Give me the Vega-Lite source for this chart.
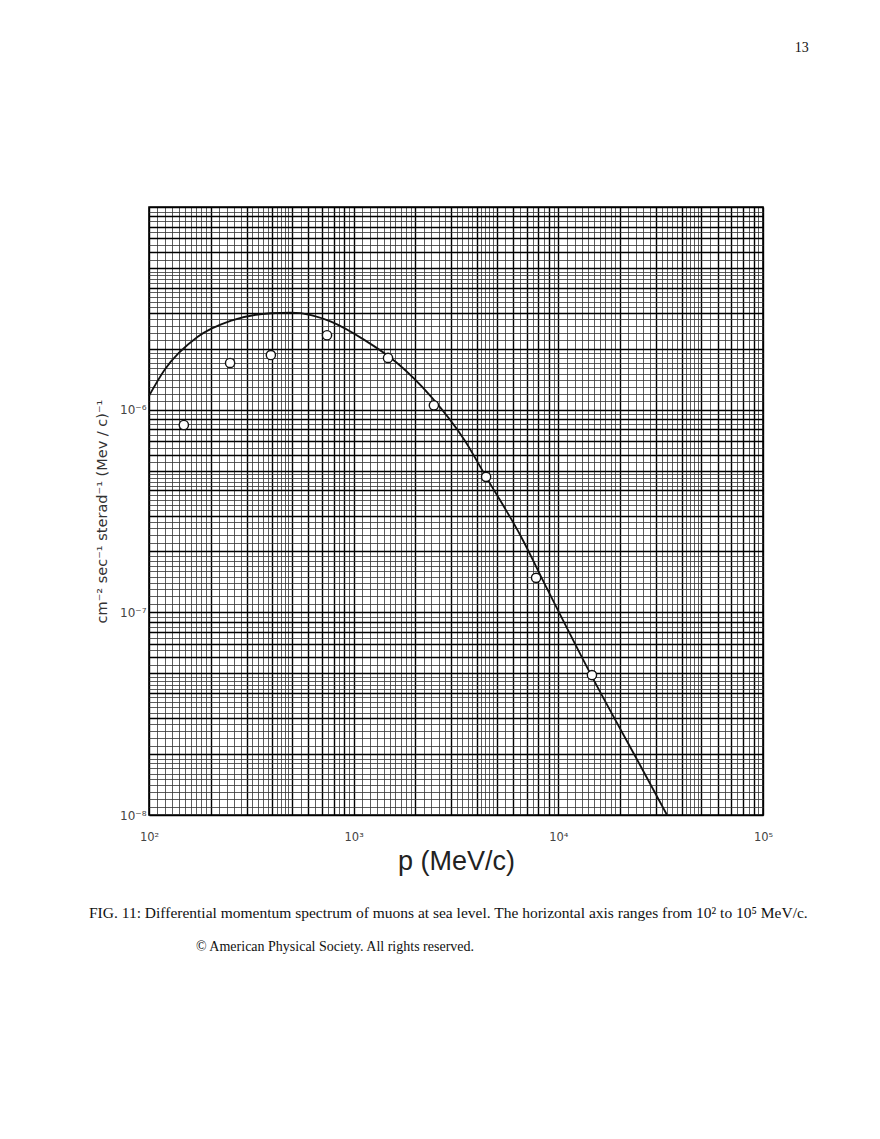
{
  "$schema": "https://vega.github.io/schema/vega-lite/v6.json",
  "background": "white",
  "padding": {"left": 88, "top": 41, "right": 10, "bottom": 10},
  "datasets": {
    "curve": [
      {"p": 100, "flux": 1.17e-6},
      {"p": 119, "flux": 1.57e-6},
      {"p": 173, "flux": 2.29e-6},
      {"p": 252, "flux": 2.75e-6},
      {"p": 394, "flux": 2.99e-6},
      {"p": 494, "flux": 3.01e-6},
      {"p": 619, "flux": 2.93e-6},
      {"p": 775, "flux": 2.72e-6},
      {"p": 1127, "flux": 2.21e-6},
      {"p": 1641, "flux": 1.69e-6},
      {"p": 2388, "flux": 1.16e-6},
      {"p": 3477, "flux": 7.08e-7},
      {"p": 4436, "flux": 4.66e-7},
      {"p": 6577, "flux": 2.36e-7},
      {"p": 8870, "flux": 1.29e-7},
      {"p": 14450, "flux": 4.91e-8},
      {"p": 25330, "flux": 1.73e-8},
      {"p": 33970, "flux": 1.0e-8}
    ],
    "measured": [
      {"p": 148, "flux": 8.4e-7},
      {"p": 249, "flux": 1.7e-6},
      {"p": 394, "flux": 1.86e-6},
      {"p": 741, "flux": 2.33e-6},
      {"p": 1472, "flux": 1.8e-6},
      {"p": 2466, "flux": 1.05e-6},
      {"p": 4436, "flux": 4.66e-7},
      {"p": 7785, "flux": 1.48e-7},
      {"p": 14600, "flux": 4.9e-8}
    ]
  },
  "title": {
    "text": "13",
    "orient": "top",
    "anchor": "end",
    "frame": "bounds",
    "offset": 145,
    "font": "Liberation Serif",
    "fontSize": 14,
    "fontWeight": "normal",
    "color": "#111"
  },
  "vconcat": [
    {
      "title": {
        "text": "© American Physical Society. All rights reserved.",
        "orient": "bottom",
        "anchor": "start",
        "frame": "group",
        "dx": 47,
        "offset": 18,
        "font": "Liberation Serif",
        "fontSize": 14,
        "fontWeight": "normal",
        "color": "#111"
      },
      "vconcat": [
        {
          "title": {
            "text": "FIG. 11: Differential momentum spectrum of muons at sea level. The horizontal axis ranges from 10² to 10⁵ MeV/c.",
            "orient": "bottom",
            "anchor": "start",
            "frame": "group",
            "dx": -60,
            "offset": 31,
            "font": "Liberation Serif",
            "fontSize": 15.5,
            "fontWeight": "normal",
            "color": "#111"
          },
          "width": 614,
          "height": 608,
          "resolve": {"axis": {"x": "independent", "y": "independent"}},
          "layer": [
            {
              "data": {"name": "curve"},
              "mark": {"type": "line", "color": "#111", "strokeWidth": 1.8, "interpolate": "monotone"},
              "encoding": {
                "x": {
                  "field": "p",
                  "type": "quantitative",
                  "scale": {"type": "log", "domain": [100, 100000], "nice": false},
                  "axis": {
                    "orient": "bottom",
                    "title": null,
                    "labels": false,
                    "ticks": false,
                    "domain": false,
                    "grid": true,
                    "gridColor": "#333",
                    "gridWidth": 0.8,
                    "values": [110,120,130,140,150,160,170,180,190,220,240,260,280,320,340,360,380,420,440,460,480,550,650,750,850,950,
                               1100,1200,1300,1400,1500,1600,1700,1800,1900,2200,2400,2600,2800,3200,3400,3600,3800,4200,4400,4600,4800,5500,6500,7500,8500,9500,
                               11000,12000,13000,14000,15000,16000,17000,18000,19000,22000,24000,26000,28000,32000,34000,36000,38000,42000,44000,46000,48000,55000,65000,75000,85000,95000]
                  }
                },
                "y": {
                  "field": "flux",
                  "type": "quantitative",
                  "scale": {"type": "log", "domain": [1e-8, 1e-5], "nice": false},
                  "axis": {
                    "orient": "left",
                    "title": null,
                    "labels": false,
                    "ticks": false,
                    "domain": false,
                    "grid": true,
                    "gridColor": "#333",
                    "gridWidth": 0.8,
                    "values": [1.1e-8,1.2e-8,1.3e-8,1.4e-8,1.5e-8,1.6e-8,1.7e-8,1.8e-8,1.9e-8,2.2e-8,2.4e-8,2.6e-8,2.8e-8,3.2e-8,3.4e-8,3.6e-8,3.8e-8,4.2e-8,4.4e-8,4.6e-8,4.8e-8,5.5e-8,6.5e-8,7.5e-8,8.5e-8,9.5e-8,
                               1.1e-7,1.2e-7,1.3e-7,1.4e-7,1.5e-7,1.6e-7,1.7e-7,1.8e-7,1.9e-7,2.2e-7,2.4e-7,2.6e-7,2.8e-7,3.2e-7,3.4e-7,3.6e-7,3.8e-7,4.2e-7,4.4e-7,4.6e-7,4.8e-7,5.5e-7,6.5e-7,7.5e-7,8.5e-7,9.5e-7,
                               1.1e-6,1.2e-6,1.3e-6,1.4e-6,1.5e-6,1.6e-6,1.7e-6,1.8e-6,1.9e-6,2.2e-6,2.4e-6,2.6e-6,2.8e-6,3.2e-6,3.4e-6,3.6e-6,3.8e-6,4.2e-6,4.4e-6,4.6e-6,4.8e-6,5.5e-6,6.5e-6,7.5e-6,8.5e-6,9.5e-6]
                  }
                }
              }
            },
            {
              "data": {"name": "measured"},
              "mark": {"type": "point", "shape": "circle", "filled": false, "fill": "white", "stroke": "#111", "strokeWidth": 1.4, "size": 85, "opacity": 1},
              "encoding": {
                "x": {
                  "field": "p",
                  "type": "quantitative",
                  "scale": {"type": "log", "domain": [100, 100000], "nice": false},
                  "axis": {
                    "orient": "bottom",
                    "title": "p (MeV/c)",
                    "titleFont": "Liberation Sans",
                    "titleFontSize": 27,
                    "titleFontWeight": "normal",
                    "titleColor": "#222",
                    "titlePadding": 6,
                    "labels": true,
                    "labelFont": "DejaVu Sans",
                    "labelFontSize": 11.5,
                    "labelColor": "#444",
                    "labelPadding": 16,
                    "labelOverlap": false,
                    "labelFlush": false,
                    "labelExpr": "datum.value == 100 ? '10²' : datum.value == 1000 ? '10³' : datum.value == 10000 ? '10⁴' : datum.value == 100000 ? '10⁵' : ''",
                    "ticks": false,
                    "domain": false,
                    "grid": true,
                    "gridColor": "#000",
                    "gridWidth": 1.4,
                    "values": [100,200,300,400,500,600,700,800,900,1000,2000,3000,4000,5000,6000,7000,8000,9000,10000,20000,30000,40000,50000,60000,70000,80000,90000,100000]
                  }
                },
                "y": {
                  "field": "flux",
                  "type": "quantitative",
                  "scale": {"type": "log", "domain": [1e-8, 1e-5], "nice": false},
                  "axis": {
                    "orient": "left",
                    "title": "cm⁻² sec⁻¹ sterad⁻¹ (Mev / c)⁻¹",
                    "titleFont": "DejaVu Sans",
                    "titleFontSize": 14.5,
                    "titleFontWeight": "normal",
                    "titleColor": "#333",
                    "titlePadding": 10,
                    "labels": true,
                    "labelFont": "DejaVu Sans",
                    "labelFontSize": 12,
                    "labelColor": "#444",
                    "labelPadding": 3,
                    "labelOverlap": false,
                    "labelFlush": false,
                    "labelExpr": "datum.value == 1e-6 ? '10⁻⁶' : datum.value == 1e-7 ? '10⁻⁷' : datum.value == 1e-8 ? '10⁻⁸' : ''",
                    "ticks": false,
                    "domain": false,
                    "grid": true,
                    "gridColor": "#000",
                    "gridWidth": 1.4,
                    "values": [1e-8,2e-8,3e-8,4e-8,5e-8,6e-8,7e-8,8e-8,9e-8,1e-7,2e-7,3e-7,4e-7,5e-7,6e-7,7e-7,8e-7,9e-7,1e-6,2e-6,3e-6,4e-6,5e-6,6e-6,7e-6,8e-6,9e-6,1e-5]
                  }
                }
              }
            }
          ]
        }
      ]
    }
  ],
  "config": {
    "view": {"stroke": "#000", "strokeWidth": 1.6},
    "font": "Liberation Sans"
  }
}
